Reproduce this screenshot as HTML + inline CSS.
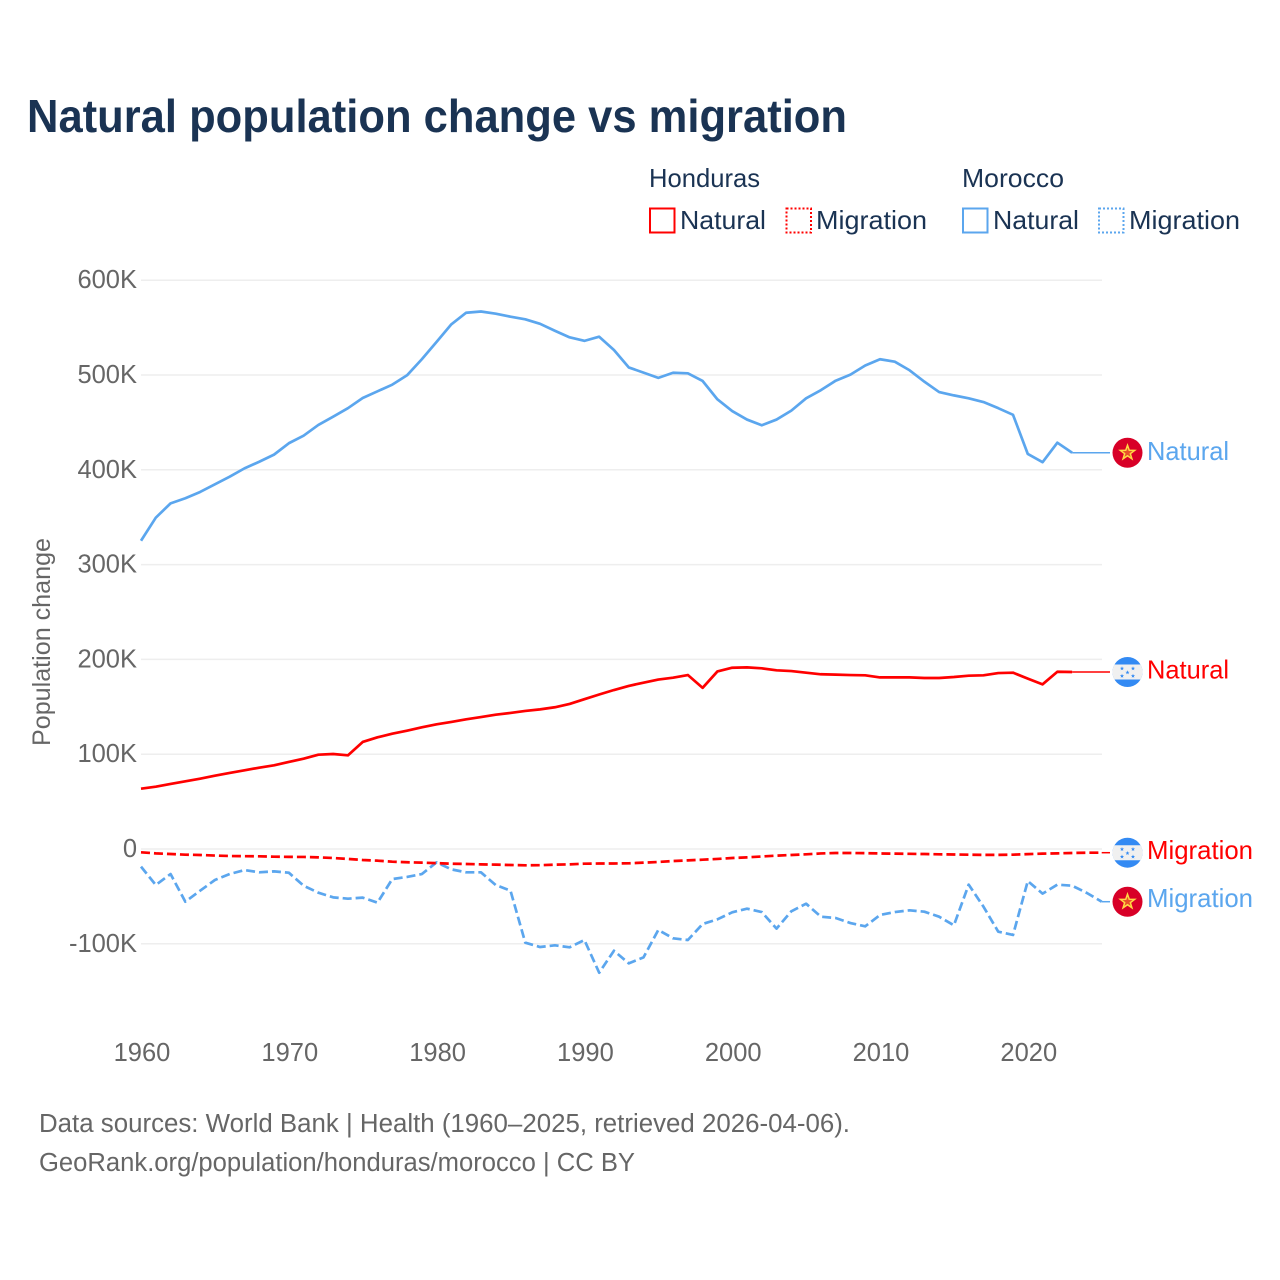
<!DOCTYPE html>
<html lang="en">
<head>
<meta charset="utf-8">
<title>Natural population change vs migration</title>
<style>
html,body{margin:0;padding:0;background:#fff;}
svg{display:block;font-family:"Liberation Sans",sans-serif;}
</style>
</head>
<body>
<svg id="chart" width="1280" height="1280" viewBox="0 0 1280 1280" xmlns="http://www.w3.org/2000/svg">
  <rect x="0" y="0" width="1280" height="1280" fill="#ffffff"/>
  <text x="27" y="132" font-size="46" font-weight="700" fill="#1a3353" textLength="820" lengthAdjust="spacingAndGlyphs">Natural population change vs migration</text>

  <g font-size="26" fill="#1a3353">
    <text x="649" y="187" textLength="111" lengthAdjust="spacingAndGlyphs">Honduras</text>
    <text x="962" y="187" textLength="102" lengthAdjust="spacingAndGlyphs">Morocco</text>
    <rect x="650" y="208.500" width="24.500" height="24" fill="none" stroke="#ff0000" stroke-width="2"/>
    <text x="680" y="229" textLength="86" lengthAdjust="spacingAndGlyphs">Natural</text>
    <rect x="786.500" y="208.500" width="24.500" height="24" fill="none" stroke="#ff0000" stroke-width="2" stroke-dasharray="2,2"/>
    <text x="816" y="229" textLength="111" lengthAdjust="spacingAndGlyphs">Migration</text>
    <rect x="963" y="208.500" width="24.500" height="24" fill="none" stroke="#5ba6ee" stroke-width="2"/>
    <text x="993" y="229" textLength="86" lengthAdjust="spacingAndGlyphs">Natural</text>
    <rect x="1099" y="208.500" width="24.500" height="24" fill="none" stroke="#5ba6ee" stroke-width="2" stroke-dasharray="2,2"/>
    <text x="1129" y="229" textLength="111" lengthAdjust="spacingAndGlyphs">Migration</text>
  </g>

  <g id="grid"></g>
  <g id="yticks" font-size="25.500" fill="#666666" text-anchor="end"></g>
  <g id="xticks" font-size="25.500" fill="#666666" text-anchor="middle"></g>
  <text transform="translate(50,746) rotate(-90)" x="0" y="0" font-size="25" fill="#666666" textLength="208" lengthAdjust="spacingAndGlyphs">Population change</text>
  <g id="series"></g>
  <g id="ends"></g>

  <g font-size="25.500" fill="#666666">
    <text x="39" y="1132" textLength="811" lengthAdjust="spacingAndGlyphs">Data sources: World Bank | Health (1960–2025, retrieved 2026-04-06).</text>
    <text x="39" y="1171" textLength="596" lengthAdjust="spacingAndGlyphs">GeoRank.org/population/honduras/morocco | CC BY</text>
  </g>
</svg>
<script>
const yTickValues = [600000, 500000, 400000, 300000, 200000, 100000, 0, -100000];
const yTickLabels = ["600K", "500K", "400K", "300K", "200K", "100K", "0", "-100K"];
const xTickYears = [1960, 1970, 1980, 1990, 2000, 2010, 2020];
const startYear = 1960;

const moroccoNatural = [325.2,349.5,364.6,370,376.6,384.7,392.7,401.5,408.5,416,428,436,447.3,456,465,475.7,482.8,489.8,499.7,516.6,535,553.5,565.7,567,564.7,561.5,558.7,554,546.7,539.7,536,540.4,526.4,508,502.5,497,502.4,501.8,493.7,474.3,462,453,447,453,462.4,475.4,484,494,500.4,510,516.6,514,505,493,482,478.5,475.4,471.5,465,458,416.7,408,428.6,418];
const hondurasNatural = [63.6,65.7,68.6,71.4,74.2,77.3,80.2,83,85.8,88.3,91.8,95.3,99.5,100.2,98.8,112.9,117.8,121.6,124.8,128.3,131.5,134,136.8,139.2,141.7,143.5,145.6,147.3,149.5,153,158,163,167.7,172,175.5,178.7,180.7,183.5,170,187.3,191.2,191.6,190.6,188.5,187.7,186,184.3,183.9,183.5,183.2,181,181,181,180.4,180.4,181.4,182.8,183.2,185.6,186,179.7,173.7,187,186.7];
const hondurasMigration = [-3.5,-4.6,-5.3,-6,-6.3,-6.9,-7.4,-7.6,-7.7,-8.1,-8.3,-8.4,-8.8,-9.5,-10.5,-11.6,-12.3,-13.4,-14,-14.4,-14.9,-15.5,-15.8,-16.2,-16.5,-16.9,-17.2,-17.1,-16.5,-16.2,-15.5,-15.3,-15.3,-15.1,-14.4,-13.7,-12.7,-12,-11.3,-10.5,-9.5,-8.8,-7.9,-7,-6.3,-5.6,-4.7,-4.2,-4.2,-4.4,-4.7,-4.9,-5.1,-5.3,-5.6,-5.8,-6,-6.2,-6.2,-6,-5.4,-4.9,-4.6,-4.2,-3.9,-3.9];
const moroccoMigration = [-18.6,-38,-26.4,-55.6,-44,-32.7,-26.4,-22.2,-24.6,-23.6,-25,-38.7,-46.1,-51,-52.4,-51.3,-56.6,-31.7,-29.5,-26.4,-14.1,-21.5,-24.6,-24.6,-38,-44,-98.8,-103.4,-101.6,-103.7,-96,-130.5,-107.3,-120.6,-114.3,-85.4,-94.2,-96,-79.1,-74.2,-66.8,-62.9,-66.5,-84,-65.7,-57.7,-71.4,-72.8,-78.1,-81.6,-69.6,-66.5,-64.7,-66.1,-71.4,-80.5,-37.6,-60.8,-87.2,-90.7,-33.8,-47.1,-37.6,-38.7,-46.4,-55.6];

const NS = "http://www.w3.org/2000/svg";
const RED = "#ff0000";
const BLUE = "#5ba6ee";
const xScale = function (year) { return 141 + (year - startYear) * 14.78; };
const yScale = function (v) { return 849 - v * 0.000948; };
const yScaleK = function (k) { return yScale(k * 1000); };
const END_X = 1110;
const FLAG_X = 1127.5;
const LABEL_X = 1147;

const gridG = document.getElementById("grid");
const yG = document.getElementById("yticks");
const xG = document.getElementById("xticks");
const seriesG = document.getElementById("series");
const endsG = document.getElementById("ends");

yTickValues.forEach(function (v, i) {
  const line = document.createElementNS(NS, "line");
  
  
  line.setAttribute("x1", 141);
  line.setAttribute("x2", 1102);
  line.setAttribute("y1", yScale(v));
  line.setAttribute("y2", yScale(v));
  line.setAttribute("stroke", "#eeeeee");
  line.setAttribute("stroke-width", 1.5);
  gridG.appendChild(line);
  const t = document.createElementNS(NS, "text");
  
  
  t.setAttribute("x", 137);
  t.setAttribute("y", yScale(v) + 8);
  t.textContent = yTickLabels[i];
  yG.appendChild(t);
});

xTickYears.forEach(function (yr) {
  const t = document.createElementNS(NS, "text");
  
  
  t.setAttribute("x", xScale(yr) + 1);
  t.setAttribute("y", 1061);
  t.textContent = String(yr);
  xG.appendChild(t);
});

function starPoints(cx, cy, r, inner) {
  const pts = [];
  for (let i = 0; i < 10; i++) {
    const rad = i % 2 === 0 ? r : inner;
    const a = -Math.PI / 2 + i * Math.PI / 5;
    pts.push((cx + rad * Math.cos(a)).toFixed(2) + "," + (cy + rad * Math.sin(a)).toFixed(2));
  }
  return pts.join(" ");
}

function drawMorocco(g, cy) {
  const c = document.createElementNS(NS, "circle");
  
  
  c.setAttribute("cx", FLAG_X);
  c.setAttribute("cy", cy);
  c.setAttribute("r", 15);
  c.setAttribute("fill", "#d80027");
  g.appendChild(c);
  const s = document.createElementNS(NS, "polygon");
  
  
  s.setAttribute("points", starPoints(FLAG_X, cy, 7.5, 3));
  s.setAttribute("fill", "#e8502a");
  s.setAttribute("stroke", "#ffda44");
  s.setAttribute("stroke-width", 1.5);
  g.appendChild(s);
}

function drawHonduras(g, cy) {
  const c = document.createElementNS(NS, "circle");
  
  
  c.setAttribute("cx", FLAG_X);
  c.setAttribute("cy", cy);
  c.setAttribute("r", 15);
  c.setAttribute("fill", "#338af3");
  g.appendChild(c);
  const b = document.createElementNS(NS, "path");
  
  
  const dx = Math.sqrt(15 * 15 - 7.5 * 7.5);
  b.setAttribute("d", "M" + (FLAG_X - dx) + " " + (cy - 7.5) + "H" + (FLAG_X + dx) + "A15 15 0 0 1 " + (FLAG_X + dx) + " " + (cy + 7.5) + "H" + (FLAG_X - dx) + "A15 15 0 0 1 " + (FLAG_X - dx) + " " + (cy - 7.5) + "Z");
  b.setAttribute("fill", "#f0f0f0");
  g.appendChild(b);
  [[-5.5, -3.5], [5.5, -3.5], [0, 0.5], [-5.5, 4], [5.5, 4]].forEach(function (o) {
    const st = document.createElementNS(NS, "polygon");
    
    
    st.setAttribute("points", starPoints(FLAG_X + o[0], cy + o[1], 2.2, 0.9));
    st.setAttribute("fill", "#338af3");
    g.appendChild(st);
  });
}

function drawSeries(values, color, dashed, name, label, flag, labelShift) {
  const g = document.createElementNS(NS, "g");
  
  
  const d = values.map(function (v, i) {
    return (i ? "L" : "M") + xScale(startYear + i).toFixed(2) + " " + yScaleK(v).toFixed(2);
  }).join("");
  const p = document.createElementNS(NS, "path");
  
  
  p.setAttribute("d", d);
  p.setAttribute("fill", "none");
  p.setAttribute("stroke", color);
  p.setAttribute("stroke-width", 2.7);
  p.setAttribute("stroke-linejoin", "round");
  if (dashed) {
    p.setAttribute("stroke-dasharray", "9,4");
  }
  g.appendChild(p);
  const lastIndex = values.length - 1;
  const lastY = yScaleK(values[lastIndex]);
  const conn = document.createElementNS(NS, "line");
  
  
  conn.setAttribute("x1", xScale(startYear + lastIndex));
  conn.setAttribute("x2", END_X);
  conn.setAttribute("y1", lastY);
  conn.setAttribute("y2", lastY);
  conn.setAttribute("stroke", color);
  conn.setAttribute("stroke-width", 1.5);
  g.appendChild(conn);
  seriesG.appendChild(g);

  const e = document.createElementNS(NS, "g");
  
  
  flag(e, lastY);
  const t = document.createElementNS(NS, "text");
  
  
  t.setAttribute("x", LABEL_X);
  t.setAttribute("y", lastY + 7.5 + labelShift);
  t.setAttribute("font-size", 26);
  t.setAttribute("fill", color);
  t.setAttribute("textLength", label === "Natural" ? 82 : 106);
  t.setAttribute("lengthAdjust", "spacingAndGlyphs");
  t.textContent = label;
  e.appendChild(t);
  endsG.appendChild(e);
}

drawSeries(moroccoNatural, BLUE, false, "morocco-natural", "Natural", drawMorocco, 0);
drawSeries(hondurasNatural, RED, false, "honduras-natural", "Natural", drawHonduras, -1);
drawSeries(moroccoMigration, BLUE, true, "morocco-migration", "Migration", drawMorocco, -2);
drawSeries(hondurasMigration, RED, true, "honduras-migration", "Migration", drawHonduras, -1);
</script>
</body>
</html>
